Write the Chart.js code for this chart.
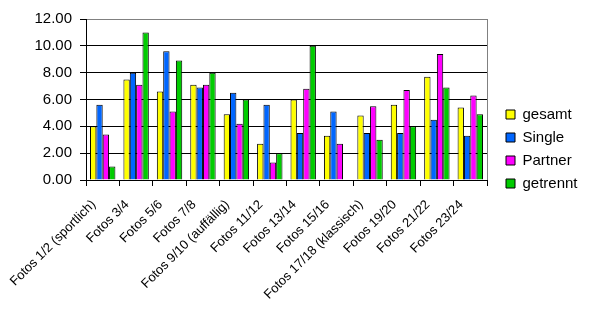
<!DOCTYPE html>
<html>
<head>
<meta charset="utf-8">
<script src="https://cdn.jsdelivr.net/npm/chart.js@4.4.1/dist/chart.umd.min.js"></script>
<style>
  html, body { margin: 0; padding: 0; background: #fff; }
</style>
</head>
<body>
<canvas id="chart" width="604" height="309"></canvas>
<script>
const categories = ['Fotos 1/2 (sportlich)', 'Fotos 3/4', 'Fotos 5/6', 'Fotos 7/8', 'Fotos 9/10 (auffällig)',
    'Fotos 11/12', 'Fotos 13/14', 'Fotos 15/16', 'Fotos 17/18 (klassisch)', 'Fotos 19/20', 'Fotos 21/22', 'Fotos 23/24'];
const gesamt = [4.0, 7.5, 6.6, 7.1, 4.9, 2.7, 6.0, 3.3, 4.8, 5.6, 7.7, 5.4];
const single = [5.6, 8.0, 9.6, 6.9, 6.5, 5.6, 3.5, 5.1, 3.5, 3.5, 4.5, 3.3];
const partner = [3.4, 7.1, 5.1, 7.1, 4.2, 1.3, 6.8, 2.7, 5.5, 6.7, 9.4, 6.3];
const getrennt = [1.0, 11.0, 8.9, 8.0, 6.0, 2.0, 10.0, null, 3.0, 4.0, 6.9, 4.9];
const yMin = 0, yMax = 12, yStep = 2;

Chart.defaults.font.family = '"Liberation Sans", Arial, sans-serif';
Chart.defaults.color = '#000';

function bars(label, data, color) {
    return {label, data, backgroundColor: color, borderColor: '#000', borderWidth: 1,
        categoryPercentage: 0.76, barPercentage: 1};
}

// legend sits in a fixed box right of the plot
const legendPlace = {
    id: 'legendPlace',
    beforeLayout(chart) {
        const lg = chart.legend;
        if (lg && !lg._patched) {
            const fit = lg.fit;
            lg.fit = function () { fit.call(this); this.width = 117; };
            lg._patched = true;
        }
    },
    afterLayout(chart) {
        const lg = chart.legend;
        lg.left = 498; lg.right = 604;
        lg.top = 99; lg.bottom = 309;
    }
};

new Chart(document.getElementById('chart'), {
    type: 'bar',
    data: {
        labels: categories,
        datasets: [
            bars('gesamt', gesamt, '#ffff00'),
            bars('Single', single, '#0066ff'),
            bars('Partner', partner, '#ff00ff'),
            bars('getrennt', getrennt, '#00cc00')
        ]
    },
    options: {
        responsive: false,
        animation: false,
        layout: {padding: {top: 19, right: 0, bottom: 0, left: 0}},
        plugins: {
            tooltip: {enabled: false},
            legend: {
                position: 'right', align: 'start',
                labels: {boxWidth: 9, boxHeight: 9, padding: 8, font: {size: 15}, color: '#000'}
            }
        },
        scales: {
            x: {
                grid: {
                    offset: true, drawOnChartArea: true, tickLength: 6, tickColor: '#000',
                    color: ctx => ctx.type === 'tick' ? 'rgba(0,0,0,0)' : '#808080'
                },
                border: {color: '#000'},
                ticks: {autoSkip: false, minRotation: 45, maxRotation: 45, padding: 11, labelOffset: -9,
                    font: {size: 13}},
                afterFit: s => { s.height = 129; }
            },
            y: {
                min: yMin, max: yMax,
                grid: {
                    tickLength: 6, tickColor: '#000',
                    color: ctx => ctx.tick && ctx.tick.value === yMax ? '#808080' : '#000'
                },
                border: {color: '#000'},
                ticks: {stepSize: yStep, padding: 8, font: {size: 15}, callback: v => v.toFixed(2)},
                afterFit: s => { s.width = 86; }
            }
        }
    },
    plugins: [legendPlace]
});
</script>
</body>
</html>
